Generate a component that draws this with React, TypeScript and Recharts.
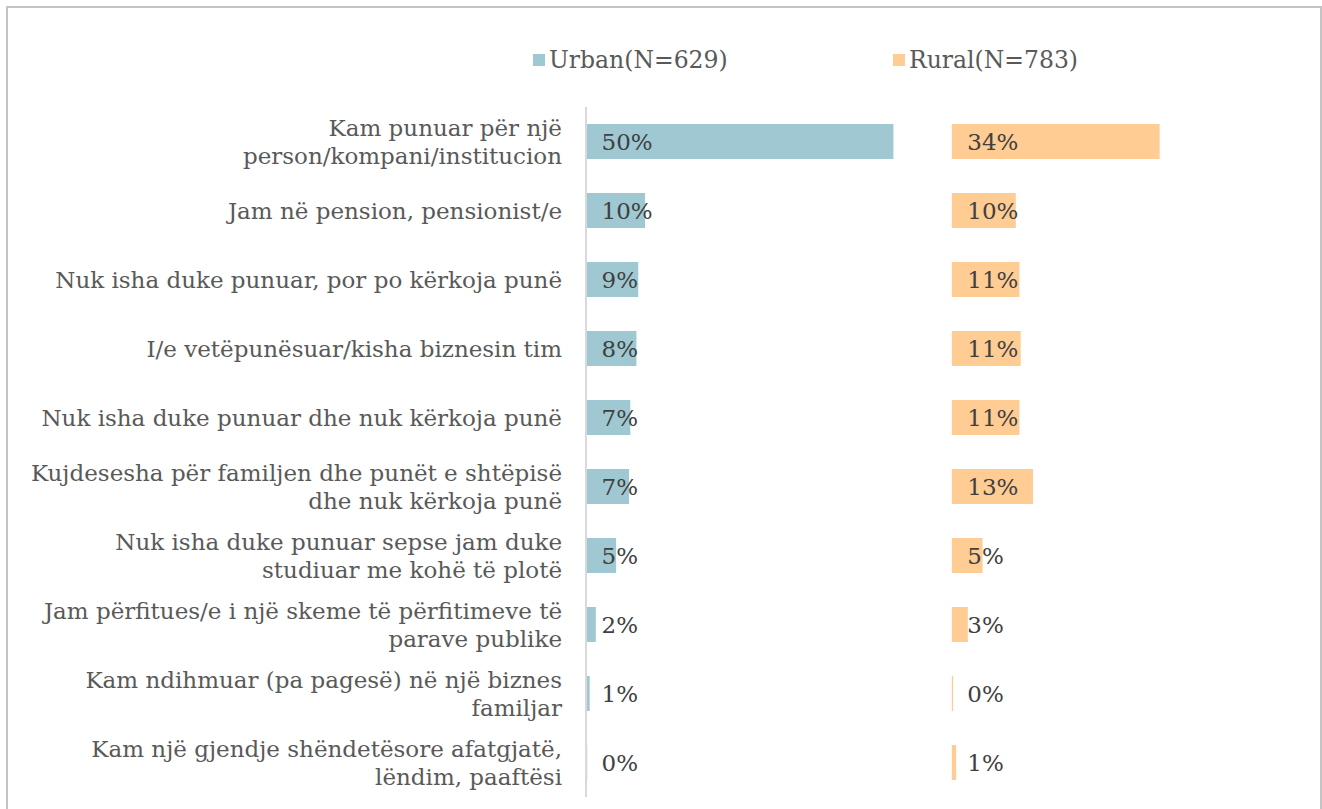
import React from "react";
import { BarChart, Bar, XAxis, YAxis, Legend, LabelList } from "recharts";

// categories (line breaks as in the original chart)
const categories = [
  "Kam punuar për një\nperson/kompani/institucion",
  "Jam në pension, pensionist/e",
  "Nuk isha duke punuar, por po kërkoja punë",
  "I/e vetëpunësuar/kisha biznesin tim",
  "Nuk isha duke punuar dhe nuk kërkoja punë",
  "Kujdesesha për familjen dhe punët e shtëpisë\ndhe nuk kërkoja punë",
  "Nuk isha duke punuar sepse jam duke\nstudiuar me kohë të plotë",
  "Jam përfitues/e i një skeme të përfitimeve të\nparave publike",
  "Kam ndihmuar (pa pagesë) në një biznes\nfamiljar",
  "Kam një gjendje shëndetësore afatgjatë,\nlëndim, paaftësi",
];

// percentages
const urban = [50, 9.6, 8.5, 8.2, 7.2, 7.0, 4.9, 1.6, 0.6, 0.2];
const rural = [33.8, 10.4, 11.0, 11.2, 11.0, 13.2, 5.0, 2.6, 0.2, 0.7];

const seriesNames = ["Urban(N=629)", "Rural(N=783)"];
const seriesColors = ["#9fc8d2", "#ffcc93"];

const data = categories.map((cat, i) => ({ cat, urban: urban[i], rural: rural[i] }));

const FONT = "'DejaVu Serif', Georgia, serif";
const TEXT = "#595959";

const CategoryTick = ({ x, y, payload }: any) => {
  const lines = String(payload.value).split("\n");
  const lh = 28;
  const y0 = y - ((lines.length - 1) * lh) / 2;
  return (
    <text textAnchor="end" fill={TEXT} fontSize={23} fontFamily={FONT}>
      {lines.map((l, i) => (
        <tspan key={i} x={x} y={y0 + i * lh} dy="0.35em">
          {l}
        </tspan>
      ))}
    </text>
  );
};

const renderValue = (props: any) => {
  const { x, y, height, value } = props;
  return (
    <text
      x={Number(x) + 15.5}
      y={Number(y) + Number(height) / 2}
      dy="0.35em"
      fill="#404040"
      fontSize={23}
      fontFamily={FONT}
    >
      {`${Math.round(Number(value))}%`}
    </text>
  );
};

const renderLegend = () => (
  <div style={{ position: "relative", height: 99, fontFamily: FONT, fontSize: 23.5, color: TEXT }}>
    {seriesNames.map((name, i) => (
      <div
        key={name}
        style={{ position: "absolute", left: [525, 885][i], top: 36, display: "flex", alignItems: "center", lineHeight: "32px" }}
      >
        <span style={{ width: 12, height: 12, background: seriesColors[i], marginRight: 4, display: "inline-block" }} />
        <span>{name}</span>
      </div>
    ))}
  </div>
);

export default function App() {
  return (
    <div
      style={{
        position: "absolute",
        left: 6,
        top: 6,
        width: 1312,
        height: 812,
        border: "2px solid #c4c4c4",
        background: "#fff",
      }}
    >
      <BarChart
        width={1312}
        height={800}
        data={data}
        layout="vertical"
        margin={{ top: 0, right: 30, bottom: 11, left: 0 }}
      >
        <XAxis xAxisId="u" type="number" domain={[0, 114.5]} hide />
        <XAxis xAxisId="r" type="number" domain={[-59.5, 55]} hide />
        <YAxis
          yAxisId="u"
          type="category"
          dataKey="cat"
          width={578}
          interval={0}
          tickLine={false}
          tickSize={0}
          tickMargin={24}
          axisLine={{ stroke: "#d9d9d9", strokeWidth: 2 }}
          tick={<CategoryTick />}
        />
        <YAxis yAxisId="r" type="category" dataKey="cat" width={0} hide />
        <Legend
          verticalAlign="top"
          content={renderLegend}
          wrapperStyle={{ top: 0, left: 0, width: 1312 }}
        />
        <Bar
          dataKey="urban"
          name={seriesNames[0]}
          xAxisId="u"
          yAxisId="u"
          fill={seriesColors[0]}
          barSize={35}
          isAnimationActive={false}
        >
          <LabelList dataKey="urban" content={renderValue} />
        </Bar>
        <Bar
          dataKey="rural"
          name={seriesNames[1]}
          xAxisId="r"
          yAxisId="r"
          fill={seriesColors[1]}
          barSize={35}
          isAnimationActive={false}
        >
          <LabelList dataKey="rural" content={renderValue} />
        </Bar>
      </BarChart>
    </div>
  );
}
